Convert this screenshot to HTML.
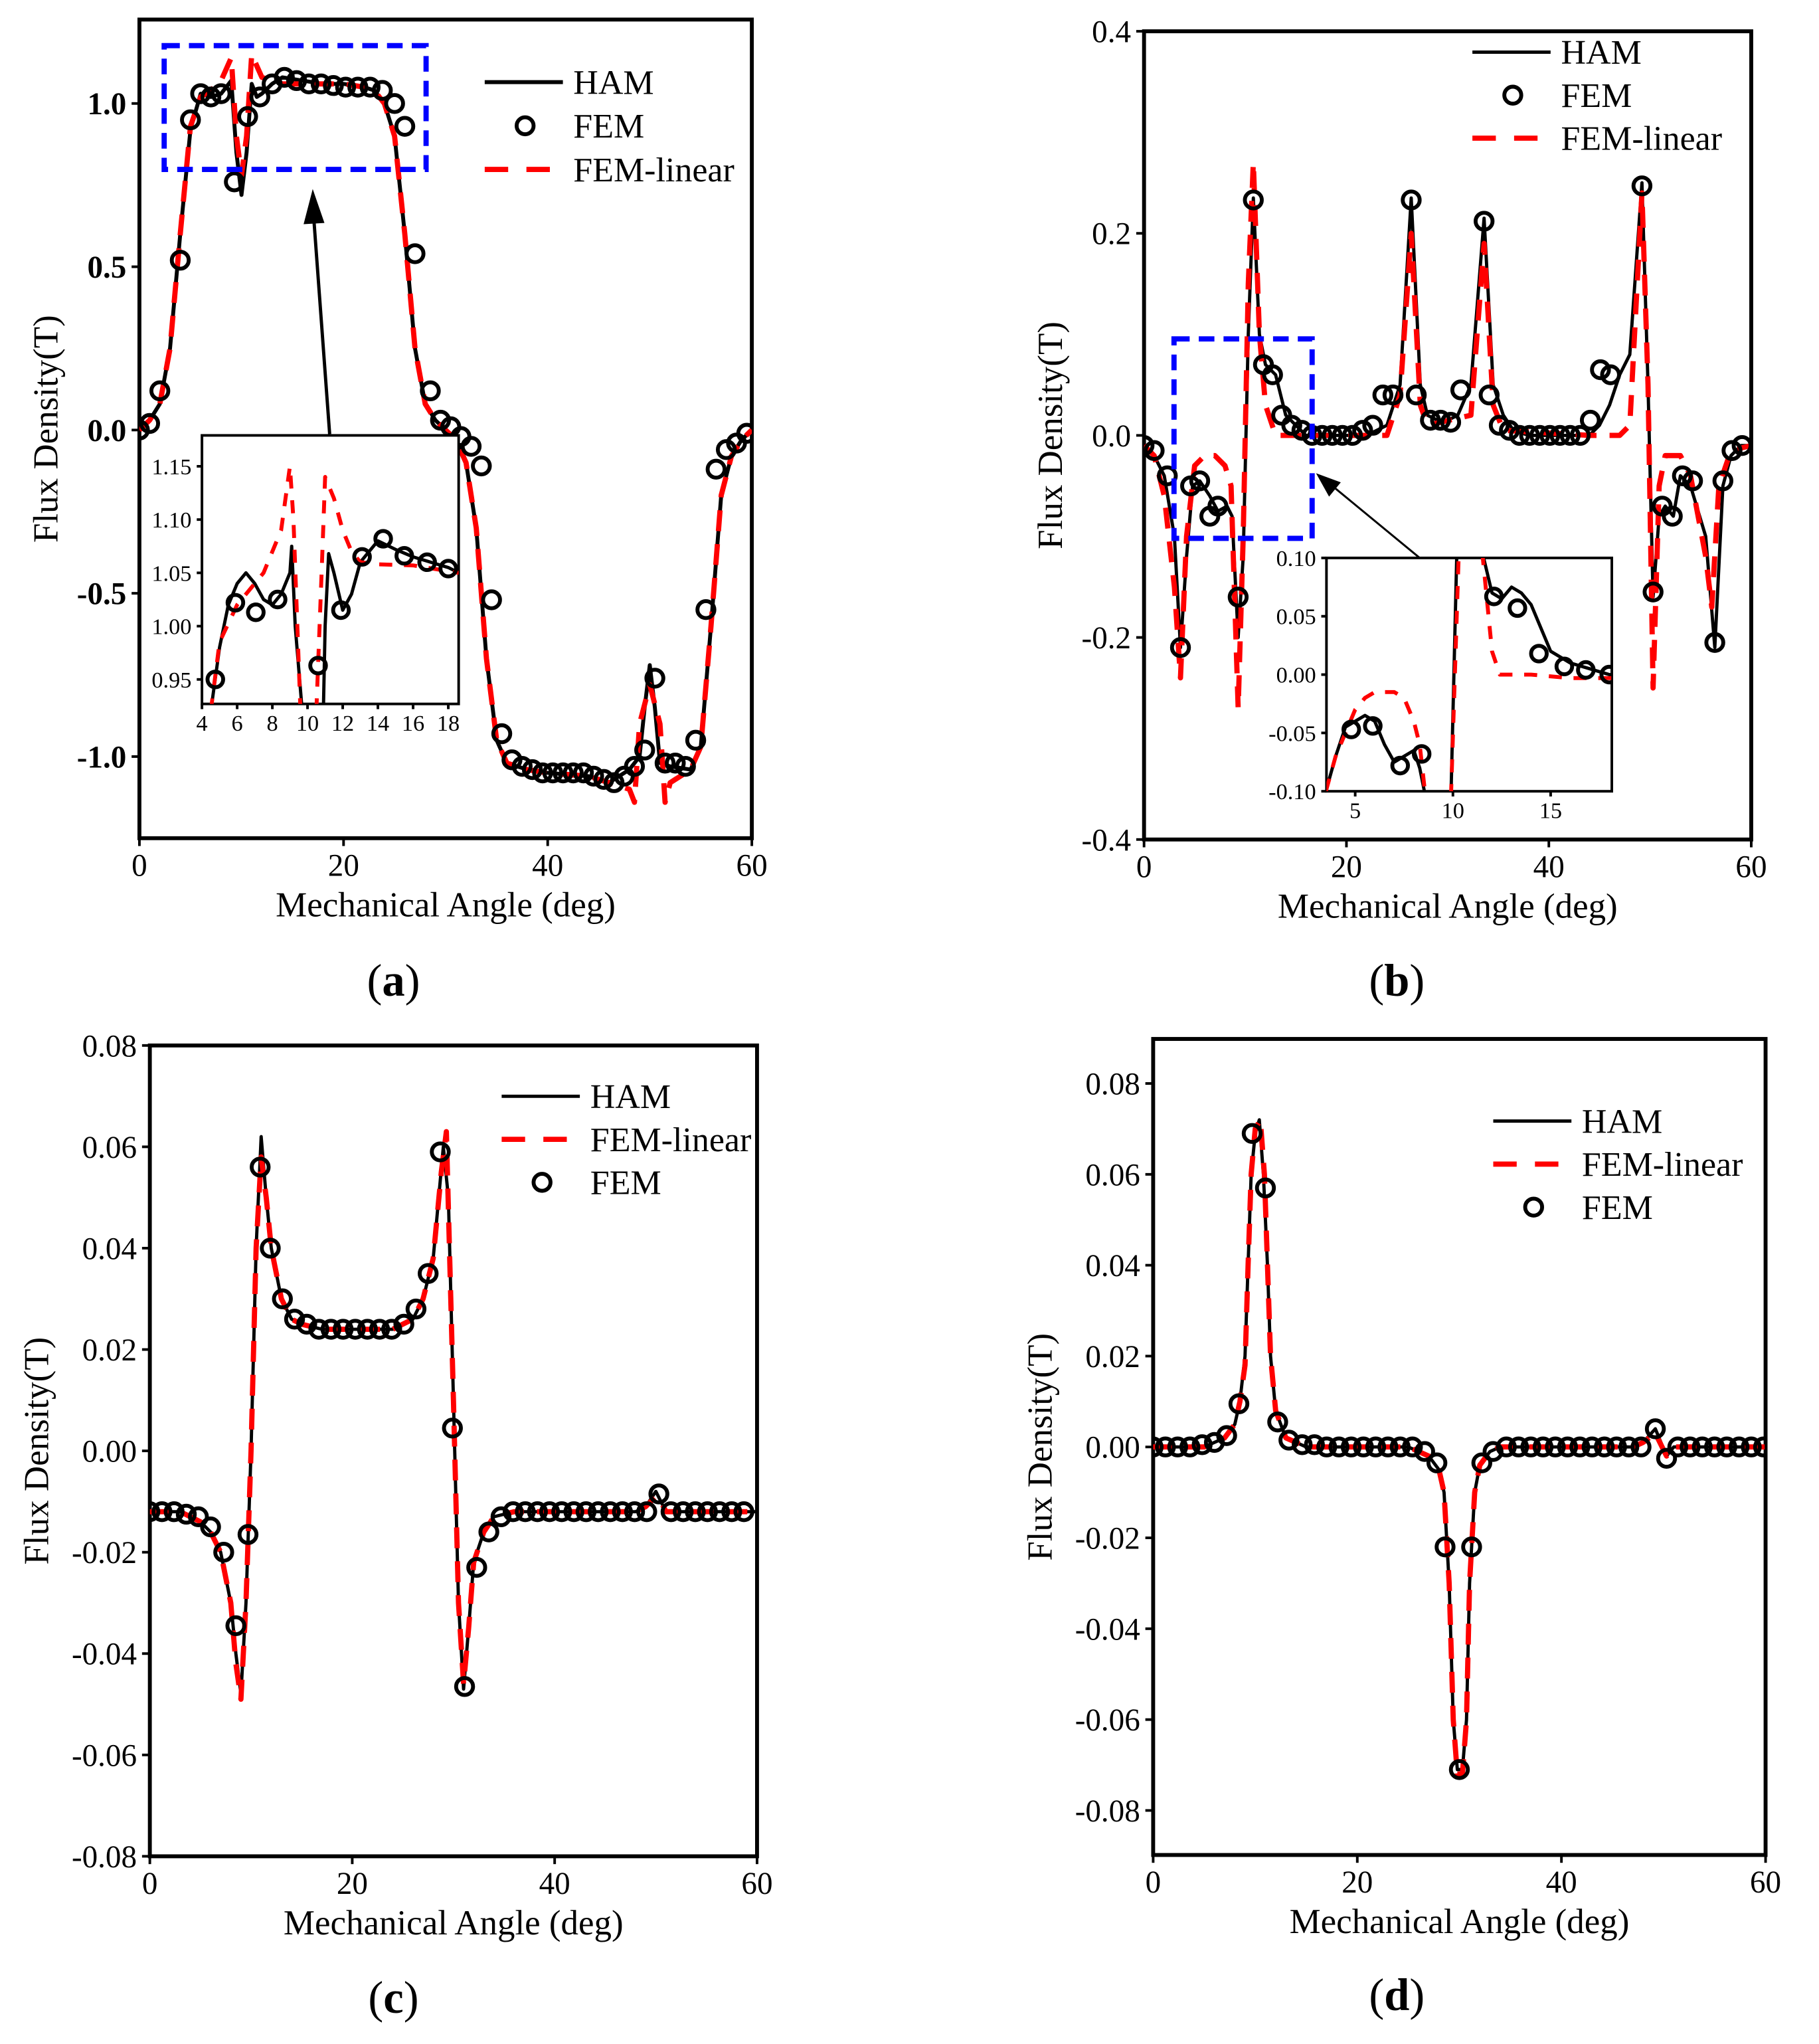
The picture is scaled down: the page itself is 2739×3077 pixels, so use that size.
<!DOCTYPE html>
<html><head><meta charset="utf-8"><style>
html,body{margin:0;padding:0;background:#fff;}
svg{display:block;font-family:"Liberation Serif",serif;}
</style></head><body>
<svg id="fig" width="2739" height="3077" viewBox="0 0 1396 1568" preserveAspectRatio="none" xmlns="http://www.w3.org/2000/svg">
<rect x="0" y="0" width="1396" height="1568" fill="#fff"/>
</svg>
<script>
// ---------- Panel (a) data ----------
const aHamX=[0,1,2,3,4,5,6,7,8,9,9.5,10,10.5,11,11.5,12,13,14,16,18,20,22,23,24,25,26,27,28,29,30,31,32,33,34,35,36,38,40,44,46,47,48,49,49.5,50,50.5,51,52,54,55,56,57,58,59,60];
const aHamY=[0,0.03,0.08,0.25,0.6,0.92,1.03,1.02,1.03,1.07,0.85,0.72,0.85,1.06,1.02,1.03,1.06,1.08,1.07,1.06,1.06,1.05,1.04,1.0,0.9,0.6,0.25,0.08,0.03,0.0,-0.03,-0.1,-0.3,-0.7,-0.95,-1.02,-1.04,-1.05,-1.06,-1.08,-1.06,-1.04,-1.0,-0.85,-0.72,-0.85,-1.02,-1.03,-1.04,-0.97,-0.6,-0.2,-0.08,-0.03,0];
const aLinX=[0,1,2,3,4,5,6,7,8,9,9.5,10,10.5,11,12,14,16,18,20,22,23,24,25,26,27,28,29,30,31,32,33,34,35,36,38,40,44,46,48,48.5,49,50,51,51.5,52,54,55,56,57,58,59,60];
const aLinY=[0,0.03,0.08,0.25,0.6,0.93,1.02,1.04,1.07,1.14,0.9,0.78,0.9,1.15,1.08,1.06,1.06,1.06,1.06,1.05,1.04,1.0,0.9,0.6,0.25,0.08,0.03,0.0,-0.03,-0.1,-0.3,-0.7,-0.95,-1.02,-1.04,-1.05,-1.06,-1.08,-1.1,-1.14,-0.9,-0.78,-0.9,-1.14,-1.08,-1.04,-0.97,-0.6,-0.2,-0.08,-0.03,0];
const aFemX=[0,1,2,4,5,6,7,8,9.3,10.6,11.8,13,14.2,15.4,16.6,17.8,19,20.2,21.4,22.6,23.8,25,26,27,28.5,29.5,30.5,31.5,32.5,33.5,34.5,35.5,36.5,37.5,38.5,39.5,40.5,41.5,42.5,43.5,44.5,45.5,46.5,47.5,48.5,49.5,50.5,51.5,52.5,53.5,54.5,55.5,56.5,57.5,58.5,59.5];
const aFemY=[0,0.02,0.12,0.52,0.95,1.03,1.02,1.03,0.76,0.96,1.02,1.06,1.08,1.07,1.06,1.06,1.055,1.05,1.05,1.05,1.04,1.0,0.93,0.54,0.12,0.03,0.01,-0.02,-0.05,-0.11,-0.52,-0.93,-1.01,-1.03,-1.04,-1.05,-1.05,-1.05,-1.05,-1.05,-1.06,-1.07,-1.08,-1.06,-1.03,-0.98,-0.76,-1.02,-1.02,-1.03,-0.95,-0.55,-0.12,-0.06,-0.04,-0.01];
const aInHamX=[4.5,5,5.5,6,6.5,7,7.5,8,8.5,9,9.1,9.3,9.7];
const aInHamY=[0.92,0.98,1.02,1.04,1.05,1.04,1.025,1.02,1.03,1.05,1.075,1.0,0.92];
const aInHam2X=[10.9,11.0,11.2,11.5,12,12.5,13,14,15,16,17,18,18.6];
const aInHam2Y=[0.92,1.0,1.068,1.05,1.015,1.03,1.06,1.08,1.072,1.065,1.06,1.055,1.05];
const aInLinX=[4.5,5,6,7,7.5,8.5,9,9.2,9.6];
const aInLinY=[0.92,0.985,1.02,1.04,1.05,1.09,1.15,1.1,0.92];
const aInLin2X=[10.5,10.8,11,11.5,12,12.5,13,14,16,18.6];
const aInLin2Y=[0.92,1.05,1.14,1.12,1.09,1.07,1.06,1.058,1.057,1.05];
const aInFemX=[4.76,5.9,7.06,8.3,10.6,11.9,13.1,14.3,15.5,16.8,18.0];
const aInFemY=[0.95,1.022,1.013,1.025,0.963,1.015,1.065,1.082,1.066,1.06,1.054];
const aYTicks=[1.0,0.5,0.0,-0.5,-1.0];
const aYLabels=["1.0","0.5","0.0","-0.5","-1.0"];
const aInXTicks=[4,6,8,10,12,14,16,18];
const aInYTicks=[0.95,1.00,1.05,1.10,1.15];
const aInYLabels=["0.95","1.00","1.05","1.10","1.15"];
// ---------- Panel (b) data ----------
const bHamX=[0,1,2,3,3.6,4.2,4.8,5.5,6.5,7.3,8.2,8.7,9.3,9.8,10.3,10.8,11.4,12,13,14,15,16,20,22,24,25.3,26.4,27.3,28,29,30,31,32.3,33.6,34.5,35.5,36.5,38,44,45,46,47,48,49.2,49.8,50.3,50.9,51.5,52.3,53,54,55.5,56.4,57.2,58,59,60];
const bHamY=[-0.01,-0.02,-0.04,-0.1,-0.21,-0.12,-0.05,-0.045,-0.06,-0.075,-0.07,-0.08,-0.2,-0.12,0.1,0.235,0.1,0.07,0.06,0.02,0.01,0.0,0.0,0.0,0.01,0.05,0.235,0.05,0.02,0.015,0.015,0.02,0.05,0.215,0.05,0.02,0.005,0,0,0.01,0.03,0.06,0.08,0.25,0.05,-0.16,-0.08,-0.07,-0.08,-0.04,-0.05,-0.1,-0.21,-0.05,-0.02,-0.01,-0.01];
const bLinX=[0,1,2,3,3.6,4.2,5,6,7,8,8.6,9.3,9.8,10.3,10.8,11.4,12,13,24,25.3,26.4,27.3,28,32.3,33.6,34.5,35.5,44,46,47,48,49.2,49.8,50.3,50.9,51.5,52.3,53,54,55.5,56.1,56.8,58,60];
const bLinY=[-0.01,-0.02,-0.06,-0.15,-0.24,-0.1,-0.03,-0.02,-0.02,-0.03,-0.05,-0.27,-0.1,0.15,0.27,0.1,0.03,0.0,0.0,0.04,0.2,0.03,0.01,0.02,0.19,0.03,0.005,0,0.0,0.0,0.01,0.24,0.05,-0.25,-0.05,-0.02,-0.02,-0.02,-0.04,-0.12,-0.17,-0.05,-0.015,-0.01];
const bFemX=[0,1,2.3,3.6,4.6,5.5,6.5,7.3,9.3,10.8,11.8,12.7,13.6,14.6,15.6,16.6,17.6,18.6,19.6,20.6,21.6,22.6,23.6,24.6,26.4,26.9,28.3,29.3,30.3,31.3,33.6,34.1,35.1,36.1,37.1,38.1,39.1,40.1,41.1,42.1,43.1,44.1,45.1,46.1,49.2,50.3,51.2,52.2,53.2,54.2,56.4,57.2,58.1,59.1];
const bFemY=[-0.01,-0.015,-0.04,-0.21,-0.05,-0.045,-0.08,-0.07,-0.16,0.233,0.07,0.06,0.02,0.01,0.005,0.0,0.0,0.0,0.0,0.0,0.005,0.01,0.04,0.04,0.233,0.04,0.015,0.015,0.013,0.045,0.212,0.04,0.01,0.005,0.0,0.0,0.0,0.0,0.0,0.0,0.0,0.015,0.065,0.06,0.247,-0.155,-0.07,-0.08,-0.04,-0.045,-0.205,-0.045,-0.015,-0.01];
const bInHamX=[3.5,4,4.5,5,5.5,6,6.5,7,7.5,8,8.3,8.6];
const bInHamY=[-0.1,-0.07,-0.045,-0.04,-0.035,-0.04,-0.06,-0.075,-0.07,-0.065,-0.08,-0.105];
const bInHam2X=[9.9,10.05,10.2];
const bInHam2Y=[-0.105,0.0,0.105];
const bInHam3X=[11.5,12,12.5,13,13.5,14,14.5,15,16,17,18,18.2];
const bInHam3Y=[0.105,0.07,0.065,0.075,0.07,0.06,0.04,0.02,0.01,0.005,0.0,0.0];
const bInLinX=[3.5,4,4.5,5,5.5,6,7,7.5,8,8.3,8.6];
const bInLinY=[-0.1,-0.07,-0.05,-0.03,-0.02,-0.015,-0.015,-0.02,-0.04,-0.06,-0.105];
const bInLin2X=[9.9,10.1,10.3];
const bInLin2Y=[-0.105,0.0,0.105];
const bInLin3X=[11.5,12,12.4,14,16,18.2];
const bInLin3Y=[0.105,0.02,0.0,0.0,-0.003,-0.003];
const bInFemX=[4.8,5.9,7.3,8.4,12.1,13.3,14.4,15.7,16.8,18.0];
const bInFemY=[-0.047,-0.044,-0.078,-0.068,0.067,0.057,0.018,0.007,0.004,0.0];
const bYTicks=[0.4,0.2,0.0,-0.2,-0.4];
const bYLabels=["0.4","0.2","0.0","-0.2","-0.4"];
const bInXTicks=[5,10,15];
const bInYTicks=[0.10,0.05,0.00,-0.05,-0.10];
const bInYLabels=["0.10","0.05","0.00","-0.05","-0.10"];
// ---------- Panel (c) data ----------
const cHamX=[0,3,4,5,6,7,8,8.5,9,9.5,10,10.5,11,11.5,12,13,14,15,17,24,25,26,27,28,29,29.5,30,30.5,31,31.5,32,33,34,36,48,49,50,50.5,51,60];
const cHamY=[-0.012,-0.012,-0.013,-0.014,-0.016,-0.02,-0.03,-0.04,-0.048,-0.03,0.0,0.04,0.062,0.05,0.04,0.03,0.026,0.025,0.024,0.024,0.025,0.026,0.03,0.038,0.06,0.05,0.01,-0.03,-0.047,-0.035,-0.022,-0.016,-0.013,-0.012,-0.012,-0.011,-0.008,-0.01,-0.012,-0.012];
const cLinX=[0,3,4,5,6,7,8,8.5,9,9.5,10,10.5,11,11.5,12,13,14,15,17,24,25,26,27,28,28.8,29.3,30,30.5,31,31.5,32,33,34,36,48,49,50,50.5,51,60];
const cLinY=[-0.012,-0.012,-0.013,-0.014,-0.016,-0.02,-0.03,-0.042,-0.049,-0.03,0.0,0.04,0.058,0.05,0.04,0.03,0.026,0.025,0.024,0.024,0.025,0.026,0.03,0.038,0.055,0.063,0.01,-0.03,-0.046,-0.035,-0.022,-0.016,-0.013,-0.012,-0.012,-0.011,-0.009,-0.01,-0.012,-0.012];
const cFemX=[0,1.2,2.4,3.6,4.8,6,7.3,8.5,9.7,10.9,11.9,13.1,14.3,15.5,16.7,17.9,19.1,20.3,21.5,22.7,23.9,25.1,26.3,27.5,28.7,29.9,31.1,32.3,33.5,34.7,35.9,37.1,38.3,39.5,40.7,41.9,43.1,44.3,45.5,46.7,47.9,49.1,50.3,51.5,52.7,53.9,55.1,56.3,57.5,58.7];
const cFemY=[-0.012,-0.012,-0.012,-0.0125,-0.013,-0.015,-0.02,-0.0345,-0.0165,0.056,0.04,0.03,0.026,0.025,0.024,0.024,0.024,0.024,0.024,0.024,0.024,0.025,0.028,0.035,0.059,0.0045,-0.0465,-0.023,-0.016,-0.013,-0.012,-0.012,-0.012,-0.012,-0.012,-0.012,-0.012,-0.012,-0.012,-0.012,-0.012,-0.012,-0.0085,-0.012,-0.012,-0.012,-0.012,-0.012,-0.012,-0.012];
const cYTicks=[0.08,0.06,0.04,0.02,0.0,-0.02,-0.04,-0.06,-0.08];
const cYLabels=["0.08","0.06","0.04","0.02","0.00","-0.02","-0.04","-0.06","-0.08"];
// ---------- Panel (d) data ----------
const dHamX=[0,5,6,7,8,8.5,9,9.3,9.6,10,10.4,10.8,11.2,11.5,12,13,14,15,25,26,27,28,28.5,29,29.4,29.8,30.3,30.7,31,31.5,32,33,34,47,48,49.2,50.3,51,60];
const dHamY=[0,0,0.001,0.002,0.005,0.01,0.02,0.04,0.06,0.069,0.072,0.06,0.04,0.02,0.008,0.002,0.001,0,0,-0.001,-0.002,-0.005,-0.01,-0.03,-0.06,-0.071,-0.071,-0.06,-0.03,-0.01,-0.004,-0.001,0,0,0.001,0.004,-0.002,0,0];
const dLinX=[0,5,6,7,8,8.5,9,9.3,9.6,10,10.5,10.9,11.2,11.5,12,13,14,15,25,26,27,28,28.5,29,29.4,29.8,30.3,30.7,31,31.5,32,33,34,47,48,49.2,50.3,51,60];
const dLinY=[0,0,0.001,0.002,0.005,0.01,0.018,0.04,0.06,0.07,0.072,0.06,0.04,0.02,0.008,0.002,0.001,0,0,-0.001,-0.002,-0.005,-0.01,-0.03,-0.06,-0.072,-0.072,-0.06,-0.03,-0.01,-0.004,-0.001,0,0,0.001,0.003,-0.002,0,0];
const dFemX=[0,1.2,2.4,3.6,4.8,6,7.2,8.4,9.7,11.0,12.2,13.3,14.6,15.8,17,18.2,19.4,20.6,21.8,23,24.2,25.4,26.6,27.8,28.6,30.0,31.2,32.2,33.3,34.6,35.8,37,38.2,39.4,40.6,41.8,43,44.2,45.4,46.6,47.8,49.2,50.3,51.4,52.6,53.8,55,56.2,57.4,58.6,59.8];
const dFemY=[0,0,0,0,0.0005,0.001,0.0025,0.0095,0.069,0.057,0.0055,0.0015,0.0005,0.0005,0,0,0,0,0,0,0,0,-0.001,-0.0035,-0.022,-0.071,-0.022,-0.0035,-0.001,0,0,0,0,0,0,0,0,0,0,0,0,0.004,-0.0025,0,0,0,0,0,0,0,0];
const dYTicks=[0.08,0.06,0.04,0.02,0.0,-0.02,-0.04,-0.06,-0.08];
const dYLabels=["0.08","0.06","0.04","0.02","0.00","-0.02","-0.04","-0.06","-0.08"];
const xTicks=[0,20,40,60];
const xLabels=["0","20","40","60"];

const NS="http://www.w3.org/2000/svg";
const svg=document.getElementById('fig');
function mk(tag,attrs,name,parent){
  const el=document.createElementNS(NS,tag);
  for(const k in attrs) el.setAttribute(k,attrs[k]);
  
  
  (parent||svg).appendChild(el);
  return el;
}
function scaleX(p,v){return p.x0+(v-p.xmin)/(p.xmax-p.xmin)*(p.x1-p.x0);}
function scaleY(p,v){return p.y1-(v-p.ymin)/(p.ymax-p.ymin)*(p.y1-p.y0);}
let clipId=0;
function clipFor(p){
  const id='clip'+(clipId++);
  const cp=mk('clipPath',{id:id},'clip-region');
  mk('rect',{x:p.x0,y:p.y0,width:p.x1-p.x0,height:p.y1-p.y0},'clip-rect',cp);
  return 'url(#'+id+')';
}
function line(p,xs,ys,style,name,g){
  let d='';
  for(let i=0;i<xs.length;i++){d+=(i?'L':'M')+scaleX(p,xs[i]).toFixed(2)+' '+scaleY(p,ys[i]).toFixed(2);}
  mk('path',Object.assign({d:d,fill:'none','stroke-linejoin':'round'},style),name,g);
}
function circles(p,xs,ys,r,sw,name,g){
  for(let i=0;i<xs.length;i++){
    mk('circle',{cx:scaleX(p,xs[i]),cy:scaleY(p,ys[i]),r:r,fill:'none',stroke:'#000','stroke-width':sw},name,g);
  }
}
function text(x,y,s,attrs,name){
  const t=mk('text',Object.assign({x:x,y:y},attrs),name);
  t.textContent=s; return t;
}
function axes(p,yt,yl,xt,xl,o){
  const fs=o.fs||24, ext=o.tick||6;
  mk('rect',{x:p.x0,y:p.y0,width:p.x1-p.x0,height:p.y1-p.y0,fill:'none',stroke:'#000','stroke-width':o.bw||3},o.pre+'plot-frame');
  for(let i=0;i<yt.length;i++){
    const y=scaleY(p,yt[i]);
    mk('line',{x1:p.x0-ext,x2:p.x0,y1:y,y2:y,stroke:'#000','stroke-width':2},o.pre+'y-tick');
    text(p.x0-ext-4,y+fs*0.35,yl[i],{'font-size':fs,'text-anchor':'end','font-weight':o.ybold?'bold':'normal'},o.pre+'y-tick-label');
  }
  for(let i=0;i<xt.length;i++){
    const x=scaleX(p,xt[i]);
    mk('line',{x1:x,x2:x,y1:p.y1,y2:p.y1+ext,stroke:'#000','stroke-width':2},o.pre+'x-tick');
    text(x,p.y1+ext+fs*0.95,xl[i],{'font-size':fs,'text-anchor':'middle'},o.pre+'x-tick-label');
  }
}
function legend(entries,lx,ty,dy,pre){
  entries.forEach((e,i)=>{
    const y=ty+i*dy;
    if(e.t==='ham') mk('line',{x1:lx,x2:lx+60,y1:y,y2:y,stroke:'#000','stroke-width':e.w||3},pre+'legend-ham-line');
    if(e.t==='lin') mk('line',{x1:lx,x2:lx+60,y1:y,y2:y,stroke:'#f00','stroke-width':4,'stroke-dasharray':'18 14'},pre+'legend-fem-linear-line');
    if(e.t==='fem') mk('circle',{cx:lx+31,cy:y,r:6.5,fill:'none',stroke:'#000','stroke-width':3},pre+'legend-fem-marker');
    text(lx+68,y+9,e.s,{'font-size':26.5},pre+'legend-label');
  });
}
const HAM={stroke:'#000','stroke-width':3};
const LIN={stroke:'#f00','stroke-width':4,'stroke-dasharray':'16 10'};

// ===== Panel (a)
const pa={x0:107,x1:577,y0:15,y1:643,xmin:0,xmax:60,ymin:-1.25,ymax:1.257};
axes(pa,aYTicks,aYLabels,xTicks,xLabels,{pre:'a-',ybold:true});
let ga=mk('g',{'clip-path':clipFor(pa)},'a-series');
line(pa,aHamX,aHamY,HAM,'a-ham-line',ga);
line(pa,aLinX,aLinY,LIN,'a-fem-linear-line',ga);
circles(pa,aFemX,aFemY,6.5,3,'a-fem-marker',ga);
mk('rect',{x:126,y:35,width:201,height:95,fill:'none',stroke:'#00f','stroke-width':4,'stroke-dasharray':'12 7'},'a-zoom-box');
mk('line',{x1:253,y1:333,x2:241,y2:170,stroke:'#000','stroke-width':2.5},'a-zoom-arrow');
mk('polygon',{points:'240,145 233,172 249,171',fill:'#000'},'a-zoom-arrowhead');
legend([{t:'ham',s:'HAM'},{t:'fem',s:'FEM'},{t:'lin',s:'FEM-linear'}],372,63,33.5,'a-');
// inset a
const pai={x0:155,x1:352,y0:334,y1:540,xmin:4,xmax:18.59,ymin:0.927,ymax:1.179};
mk('rect',{x:155,y:334,width:197,height:206,fill:'#fff'},'a-inset-bg');
axes(pai,aInYTicks,aInYLabels,aInXTicks,aInXTicks.map(String),{pre:'a-inset-',fs:17.5,tick:4,bw:2});
let gai=mk('g',{'clip-path':clipFor(pai)},'a-inset-series');
line(pai,aInHamX,aInHamY,{stroke:'#000','stroke-width':2.5},'a-inset-ham-line',gai);
line(pai,aInHam2X,aInHam2Y,{stroke:'#000','stroke-width':2.5},'a-inset-ham-line',gai);
line(pai,aInLinX,aInLinY,{stroke:'#f00','stroke-width':3,'stroke-dasharray':'10 9'},'a-inset-fem-linear-line',gai);
line(pai,aInLin2X,aInLin2Y,{stroke:'#f00','stroke-width':3,'stroke-dasharray':'10 9'},'a-inset-fem-linear-line',gai);
circles(pai,aInFemX,aInFemY,6,3,'a-inset-fem-marker',gai);

// ===== Panel (b)
const pb={x0:878,x1:1344,y0:24,y1:644,xmin:0,xmax:60,ymin:-0.4,ymax:0.4};
axes(pb,bYTicks,bYLabels,xTicks,xLabels,{pre:'b-'});
let gb=mk('g',{'clip-path':clipFor(pb)},'b-series');
line(pb,bHamX,bHamY,{stroke:'#000','stroke-width':2.5},'b-ham-line',gb);
line(pb,bLinX,bLinY,LIN,'b-fem-linear-line',gb);
circles(pb,bFemX,bFemY,6.5,3,'b-fem-marker',gb);
mk('rect',{x:901,y:260,width:106,height:153,fill:'none',stroke:'#00f','stroke-width':4,'stroke-dasharray':'12 7'},'b-zoom-box');
mk('line',{x1:1092,y1:430,x2:1024,y2:374,stroke:'#000','stroke-width':1.5},'b-zoom-arrow');
mk('polygon',{points:'1010,363 1020,381 1029,370',fill:'#000'},'b-zoom-arrowhead');
legend([{t:'ham',s:'HAM',w:2.5},{t:'fem',s:'FEM'},{t:'lin',s:'FEM-linear'}],1130,40,33,'b-');
const pbi={x0:1018,x1:1237,y0:428,y1:607,xmin:3.53,xmax:18.13,ymin:-0.1,ymax:0.1};
mk('rect',{x:1018,y:428,width:219,height:179,fill:'#fff'},'b-inset-bg');
axes(pbi,bInYTicks,bInYLabels,bInXTicks,bInXTicks.map(String),{pre:'b-inset-',fs:17.5,tick:4,bw:2});
let gbi=mk('g',{'clip-path':clipFor(pbi)},'b-inset-series');
line(pbi,bInHamX,bInHamY,{stroke:'#000','stroke-width':2.5},'b-inset-ham-line',gbi);
line(pbi,bInHam2X,bInHam2Y,{stroke:'#000','stroke-width':2.5},'b-inset-ham-line',gbi);
line(pbi,bInHam3X,bInHam3Y,{stroke:'#000','stroke-width':2.5},'b-inset-ham-line',gbi);
line(pbi,bInLinX,bInLinY,{stroke:'#f00','stroke-width':3,'stroke-dasharray':'10 9'},'b-inset-fem-linear-line',gbi);
line(pbi,bInLin2X,bInLin2Y,{stroke:'#f00','stroke-width':3,'stroke-dasharray':'10 9'},'b-inset-fem-linear-line',gbi);
line(pbi,bInLin3X,bInLin3Y,{stroke:'#f00','stroke-width':3,'stroke-dasharray':'10 9'},'b-inset-fem-linear-line',gbi);
circles(pbi,bInFemX,bInFemY,6,3,'b-inset-fem-marker',gbi);

// ===== Panel (c)
const pc={x0:115,x1:581,y0:802,y1:1424,xmin:0,xmax:60,ymin:-0.08,ymax:0.08};
axes(pc,cYTicks,cYLabels,xTicks,xLabels,{pre:'c-'});
let gc=mk('g',{'clip-path':clipFor(pc)},'c-series');
line(pc,cHamX,cHamY,{stroke:'#000','stroke-width':2.5},'c-ham-line',gc);
line(pc,cLinX,cLinY,LIN,'c-fem-linear-line',gc);
circles(pc,cFemX,cFemY,6.5,3,'c-fem-marker',gc);
legend([{t:'ham',s:'HAM',w:2.5},{t:'lin',s:'FEM-linear'},{t:'fem',s:'FEM'}],385,841,33,'c-');

// ===== Panel (d)
const pd={x0:885,x1:1355,y0:797,y1:1423,xmin:0,xmax:60,ymin:-0.0898,ymax:0.0898};
axes(pd,dYTicks,dYLabels,xTicks,xLabels,{pre:'d-'});
let gd=mk('g',{'clip-path':clipFor(pd)},'d-series');
line(pd,dHamX,dHamY,{stroke:'#000','stroke-width':2.5},'d-ham-line',gd);
line(pd,dLinX,dLinY,LIN,'d-fem-linear-line',gd);
circles(pd,dFemX,dFemY,6.5,3,'d-fem-marker',gd);
legend([{t:'ham',s:'HAM',w:2.5},{t:'lin',s:'FEM-linear'},{t:'fem',s:'FEM'}],1146,860,33,'d-');

// ===== titles
[[pa,35,'a'],[pb,806,'b'],[pc,28,'c'],[pd,798,'d']].forEach(q=>{
  const p=q[0], cx=(p.x0+p.x1)/2, cy=(p.y0+p.y1)/2;
  text(cx,p.y1+60,'Mechanical Angle (deg)',{'font-size':27,'text-anchor':'middle'},q[2]+'-x-axis-title');
  text(q[1],cy,'Flux Density(T)',{'font-size':27,'text-anchor':'middle',transform:'rotate(-90 '+q[1]+' '+cy+')',dy:9},q[2]+'-y-axis-title');
});
const capA=text(302,764,'',{'font-size':35,'text-anchor':'middle'},'caption-a');
capA.innerHTML='(<tspan font-weight="bold">a</tspan>)';
const capB=text(1072,764,'',{'font-size':35,'text-anchor':'middle'},'caption-b');
capB.innerHTML='(<tspan font-weight="bold">b</tspan>)';
const capC=text(302,1544,'',{'font-size':35,'text-anchor':'middle'},'caption-c');
capC.innerHTML='(<tspan font-weight="bold">c</tspan>)';
const capD=text(1072,1542,'',{'font-size':35,'text-anchor':'middle'},'caption-d');
capD.innerHTML='(<tspan font-weight="bold">d</tspan>)';
</script>
</body></html>
